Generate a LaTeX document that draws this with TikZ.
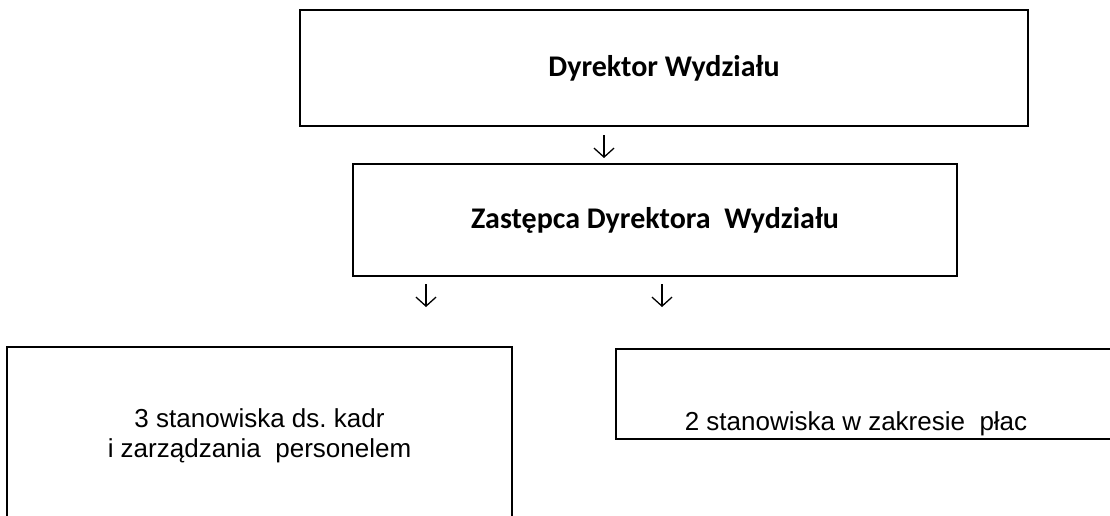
\documentclass[tikz,border=0pt]{standalone}
\usepackage{fontspec}
\setmainfont{Liberation Sans}
\newfontfamily\carl{Carlito}
\usetikzlibrary{arrows.meta}
\frenchspacing
\begin{document}
\begin{tikzpicture}[x=1pt,y=1pt,
  boxa/.style={draw, rectangle, inner sep=0pt, line width=2.6pt,
    font=\carl\bfseries\fontsize{30}{36}\selectfont},
  boxb/.style={draw, rectangle, inner sep=0pt, line width=1.3pt,
    align=center, font=\fontsize{26}{30}\selectfont},
  arr/.style={line width=1.3pt, -{Straight Barb[length=9pt,width=20pt,line width=1.3pt]}}]
\useasboundingbox (0,0) rectangle (1110,-515);
\clip (0,0) rectangle (1110,-515);
\node[boxa, minimum width=728pt, minimum height=116pt] (dyr) at (664,-68) {Dyrektor Wydziału};
\node[boxa, line width=2.3pt, minimum width=604pt, minimum height=112pt] (zast) at (655,-220) {Zastępca Dyrektora\ \ Wydziału};
\node[boxb, minimum width=505pt, minimum height=177pt] (kadr) at (259.5,-435.5) {3 stanowiska ds. kadr\\i zarządzania\ \ personelem};
\node[boxb, minimum width=520pt, minimum height=90pt, text height=81pt, text depth=9pt] (place) at (876,-394) {2 stanowiska w zakresie\ \ płac\hspace*{40pt}};
\coordinate (a1s) at (604,-135); \coordinate (a1e) at (604,-158);
\coordinate (a2s) at (426,-284); \coordinate (a2e) at (426,-307);
\coordinate (a3s) at (662,-284); \coordinate (a3e) at (662,-307);
\draw[arr] (a1s) -- (a1e);
\draw[arr] (a2s) -- (a2e);
\draw[arr] (a3s) -- (a3e);
\end{tikzpicture}
\end{document}
